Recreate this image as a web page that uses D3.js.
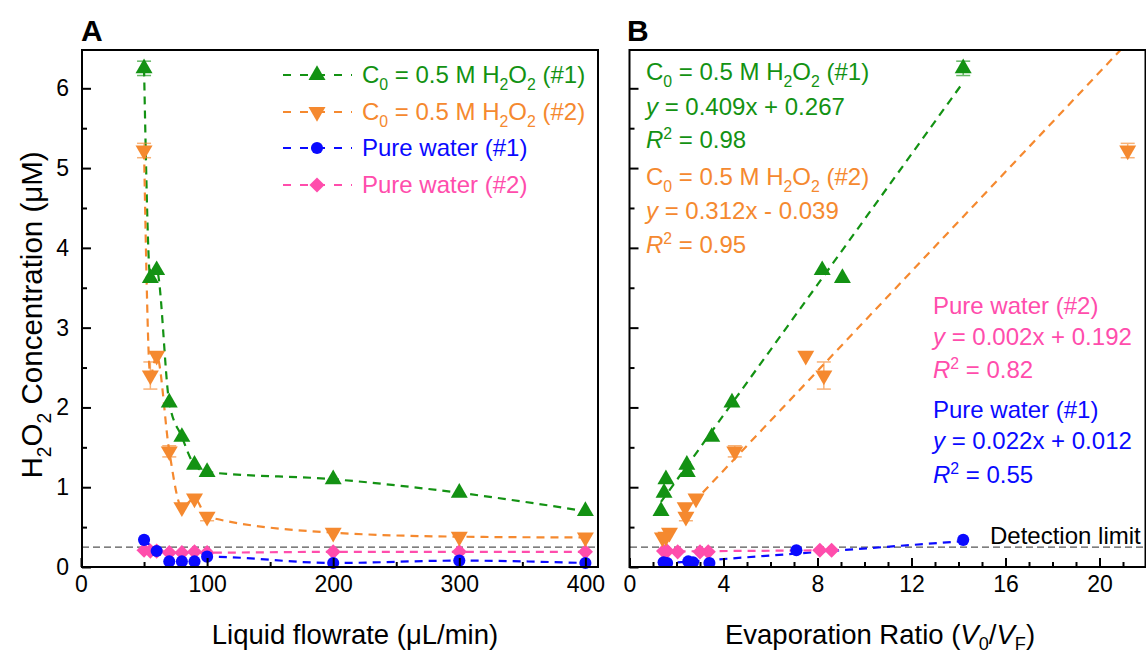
<!DOCTYPE html>
<html>
<head>
<meta charset="utf-8">
<script src="https://cdn.jsdelivr.net/npm/d3@7"></script>
<style>
body{margin:0;background:#fff;}
text{font-family:"Liberation Sans",Arial,sans-serif;}
</style>
</head>
<body>
<div id="chart"></div>
<script>
let w=1146;
let h=655;

// ---- panel A : concentration vs liquid flowrate
let flowH1=[50,55,60,70,80,90,100,200,300,400];
let concH1=[6.25,3.62,3.72,2.06,1.63,1.28,1.19,1.1,0.93,0.7];
let errH1=[0.09,0,0,0,0,0,0,0,0,0];
let flowH2=[50,55,60,70,80,90,100,200,300,400];
let concH2=[5.22,2.4,2.65,1.45,0.75,0.86,0.63,0.43,0.38,0.37];
let errH2=[0.09,0.17,0,0.07,0,0,0.05,0,0,0];
let flowW1=[50,60,70,80,90,100,200,300,400];
let concW1=[0.34,0.2,0.07,0.07,0.07,0.13,0.05,0.08,0.05];
let flowW2=[50,55,60,70,80,90,100,200,300,400];
let concW2=[0.21,0.2,0.2,0.18,0.18,0.19,0.18,0.19,0.19,0.19];

// ---- panel B : concentration vs evaporation ratio
let ratioH1=[14.2,9.06,8.2,4.36,3.5,2.44,2.46,1.55,1.47,1.34];
let ratioH2=[21.2,8.27,7.5,4.48,2.37,2.83,2.4,1.7,1.55,1.4];
let ratioW1=[14.2,7.1,3.4,2.7,2.5,1.6,1.45];
let concW1b=[0.34,0.21,0.05,0.06,0.07,0.05,0.06];
let ratioW2=[8.6,8.1,3.35,3.0,2.05,1.6,1.45];
let concW2b=[0.21,0.21,0.19,0.19,0.19,0.2,0.2];

// linear fits shown in B (order: H2O2 #1, H2O2 #2, water #1, water #2)
let fitSlope=[0.409,0.312,0.022,0.002];
let fitIntercept=[0.267,-0.039,0.012,0.192];
let fitFrom=[1.34,2.3,1.45,1.45];
let fitTo=[14.2,22,14.2,8.6];

let detectionLimit=0.25;

let colors=["#139213","#f5892f","#0a0aff","#ff4dac"];
let shapes=["up","down","circle","diamond"];

let svg=d3.select("#chart").append("svg")
  .attr("width",w)
  .attr("height",h);

let plotTop=50, plotBottom=567;
let xA=d3.scaleLinear().domain([0,410]).range([81,598]);
let xB=d3.scaleLinear().domain([0,22]).range([629.5,1146.5]);
let y=d3.scaleLinear().domain([0,6.48]).range([plotBottom,plotTop]);

svg.append("defs").append("clipPath").attr("id","clipB")
  .append("rect").attr("x",630).attr("y",plotTop).attr("width",w-630).attr("height",plotBottom-plotTop);

function markerPath(shape){
  if(shape=="up") return d3.symbol(d3.symbolTriangle,125)();
  if(shape=="down") return d3.symbol(d3.symbolTriangle,125)();
  if(shape=="circle") return d3.symbol(d3.symbolCircle,115)();
  return d3.symbol(d3.symbolSquare,115)();
}
function markerRot(shape){
  if(shape=="down") return " rotate(180)";
  if(shape=="diamond") return " rotate(45)";
  return "";
}

function drawMarkers(g,xs,ys,errs,k,xScale){
  let pts=xs.map((d,i)=>({x:d,y:ys[i],e:errs?errs[i]:0}));
  let eb=g.selectAll(".eb"+k).data(pts.filter(d=>d.e>0)).enter().append("g")
    .attr("stroke",colors[k]).attr("stroke-width",1.5).attr("opacity",0.65);
  eb.append("line").attr("x1",d=>xScale(d.x)).attr("x2",d=>xScale(d.x))
    .attr("y1",d=>y(d.y+d.e)).attr("y2",d=>y(d.y-d.e));
  eb.append("line").attr("x1",d=>xScale(d.x)-7).attr("x2",d=>xScale(d.x)+7)
    .attr("y1",d=>y(d.y+d.e)).attr("y2",d=>y(d.y+d.e));
  eb.append("line").attr("x1",d=>xScale(d.x)-7).attr("x2",d=>xScale(d.x)+7)
    .attr("y1",d=>y(d.y-d.e)).attr("y2",d=>y(d.y-d.e));
  g.selectAll(".m"+k).data(pts).enter().append("path")
    .attr("d",markerPath(shapes[k]))
    .attr("transform",d=>"translate("+xScale(d.x)+","+y(d.y)+")"+markerRot(shapes[k]))
    .attr("fill",colors[k]);
}

// text with sub / super / italic pieces
function richText(g,x,yy,parts,color,size,anchor,subShift){
  let t=g.append("text").attr("x",x).attr("y",yy).attr("fill",color)
    .style("font-size",size+"px").attr("text-anchor",anchor||"start");
  let shift=0;
  let down=subShift||0.3;
  parts.forEach(function(p){
    if(typeof p=="string") p={t:p};
    let target=0;
    if(p.sub) target=down*size;
    if(p.sup) target=-0.38*size;
    let s=t.append("tspan").text(p.t).attr("dy",target-shift);
    shift=target;
    if(p.sub||p.sup) s.style("font-size",(size*0.66)+"px");
    if(p.i) s.style("font-style","italic");
  });
  return t;
}

function styleAxis(g){
  g.select(".domain").remove();
  g.selectAll(".tick line").attr("stroke","#000").attr("stroke-width",2);
  g.selectAll(".tick text").attr("fill","#000").style("font-size","23px")
    .style("font-family","'Liberation Sans',Arial,sans-serif");
}

// ---------------- panel A
let gA=svg.append("g");

let lineA=d3.line().x(d=>xA(d[0])).y(d=>y(d[1])).curve(d3.curveMonotoneX);
let flowsA=[flowH1,flowH2,flowW1,flowW2];
let concsA=[concH1,concH2,concW1,concW2];
let errsA=[errH1,errH2,null,null];

gA.append("line").attr("x1",82).attr("x2",598)
  .attr("y1",y(detectionLimit)).attr("y2",y(detectionLimit))
  .attr("stroke","#555").attr("stroke-width",1.3).attr("stroke-dasharray","7,4");

for(let k=0;k<4;k++){
  gA.append("path")
    .attr("d",lineA(flowsA[k].map((d,i)=>[d,concsA[k][i]])))
    .attr("fill","none").attr("stroke",colors[k]).attr("stroke-width",2.2)
    .attr("stroke-dasharray","8,6");
}
for(let k=3;k>=0;k--){
  drawMarkers(gA,flowsA[k],concsA[k],errsA[k],k,xA);
}

gA.append("g").attr("transform","translate(0,"+plotBottom+")")
  .call(d3.axisBottom(xA).tickValues([0,100,200,300,400]).tickSize(-9).tickPadding(9))
  .call(styleAxis);
gA.append("g").attr("transform","translate(0,"+plotBottom+")")
  .call(d3.axisBottom(xA).tickValues([50,150,250,350]).tickSize(-5).tickFormat(""))
  .call(styleAxis);
gA.append("g").attr("transform","translate(82,0)")
  .call(d3.axisLeft(y).tickValues([0,1,2,3,4,5,6]).tickFormat(d3.format("d")).tickSize(-9).tickPadding(13))
  .call(styleAxis);
gA.append("g").attr("transform","translate(82,0)")
  .call(d3.axisLeft(y).tickValues([0.5,1.5,2.5,3.5,4.5,5.5]).tickSize(-5).tickFormat(""))
  .call(styleAxis);

gA.append("rect").attr("x",82).attr("y",plotTop).attr("width",598-82).attr("height",plotBottom-plotTop)
  .attr("fill","none").attr("stroke","#000").attr("stroke-width",2);

// legend
let legendText=[
  ["C",{t:"0",sub:true}," = 0.5 M H",{t:"2",sub:true},"O",{t:"2",sub:true}," (#1)"],
  ["C",{t:"0",sub:true}," = 0.5 M H",{t:"2",sub:true},"O",{t:"2",sub:true}," (#2)"],
  ["Pure water (#1)"],
  ["Pure water (#2)"]
];
let legendY=[75,112,148,185];
for(let k=0;k<4;k++){
  gA.append("line").attr("x1",283).attr("x2",352).attr("y1",legendY[k]).attr("y2",legendY[k])
    .attr("stroke",colors[k]).attr("stroke-width",2.2).attr("stroke-dasharray","8,9");
  gA.append("path").attr("d",markerPath(shapes[k]))
    .attr("transform","translate(317,"+legendY[k]+")"+markerRot(shapes[k]))
    .attr("fill",colors[k]);
  richText(gA,362,legendY[k]+8,legendText[k],colors[k],24);
}

// ---------------- panel B
let gB=svg.append("g");
let plotB=gB.append("g").attr("clip-path","url(#clipB)");

plotB.append("line").attr("x1",630).attr("x2",w)
  .attr("y1",y(detectionLimit)).attr("y2",y(detectionLimit))
  .attr("stroke","#555").attr("stroke-width",1.3).attr("stroke-dasharray","7,4");

for(let k=0;k<4;k++){
  let x0=fitFrom[k], x1=fitTo[k];
  plotB.append("line")
    .attr("x1",xB(x0)).attr("y1",y(fitSlope[k]*x0+fitIntercept[k]))
    .attr("x2",xB(x1)).attr("y2",y(fitSlope[k]*x1+fitIntercept[k]))
    .attr("stroke",colors[k]).attr("stroke-width",2.2).attr("stroke-dasharray","8,6");
}
let ratiosB=[ratioH1,ratioH2,ratioW1,ratioW2];
let concsB=[concH1,concH2,concW1b,concW2b];
for(let k=3;k>=0;k--){
  drawMarkers(plotB,ratiosB[k],concsB[k],errsA[k],k,xB);
}

gB.append("g").attr("transform","translate(0,"+plotBottom+")")
  .call(d3.axisBottom(xB).tickValues([0,4,8,12,16,20]).tickSize(-9).tickPadding(9))
  .call(styleAxis);
gB.append("g").attr("transform","translate(0,"+plotBottom+")")
  .call(d3.axisBottom(xB).tickValues(d3.range(1,22).filter(d=>d%4!=0)).tickSize(-5).tickFormat(""))
  .call(styleAxis);
gB.append("g").attr("transform","translate(629.5,0)")
  .call(d3.axisLeft(y).tickValues([0,1,2,3,4,5,6]).tickSize(-9).tickFormat(""))
  .call(styleAxis);
gB.append("g").attr("transform","translate(629.5,0)")
  .call(d3.axisLeft(y).tickValues([0.5,1.5,2.5,3.5,4.5,5.5]).tickSize(-5).tickFormat(""))
  .call(styleAxis);

gB.append("rect").attr("x",629.5).attr("y",plotTop).attr("width",1145.5-629.5).attr("height",plotBottom-plotTop)
  .attr("fill","none").attr("stroke","#000").attr("stroke-width",2);

// fit annotations
let noteLines=[
  [["C",{t:"0",sub:true}," = 0.5 M H",{t:"2",sub:true},"O",{t:"2",sub:true}," (#1)"],
   [{t:"y",i:true}," = 0.409x + 0.267"],
   [{t:"R",i:true},{t:"2",sup:true}," = 0.98"]],
  [["C",{t:"0",sub:true}," = 0.5 M H",{t:"2",sub:true},"O",{t:"2",sub:true}," (#2)"],
   [{t:"y",i:true}," = 0.312x - 0.039"],
   [{t:"R",i:true},{t:"2",sup:true}," = 0.95"]],
  [["Pure water (#1)"],
   [{t:"y",i:true}," = 0.022x + 0.012"],
   [{t:"R",i:true},{t:"2",sup:true}," = 0.55"]],
  [["Pure water (#2)"],
   [{t:"y",i:true}," = 0.002x + 0.192"],
   [{t:"R",i:true},{t:"2",sup:true}," = 0.82"]]
];
let noteX=[646,646,933,933];
let noteY=[[80,115,148],[185,219,253],[418,449,483],[314,345,378]];
for(let k=0;k<4;k++){
  for(let j=0;j<3;j++){
    richText(gB,noteX[k],noteY[k][j],noteLines[k][j],colors[k],24);
  }
}
gB.append("text").attr("x",990).attr("y",544).attr("fill","#000")
  .style("font-size","24px").text("Detection limit");

// ---------------- titles
svg.append("text").attr("x",81).attr("y",41).style("font-size","30px")
  .style("font-weight","bold").text("A");
svg.append("text").attr("x",627).attr("y",41).style("font-size","30px")
  .style("font-weight","bold").text("B");

richText(svg,355,644,["Liquid flowrate (μL/min)"],"#000",27.5,"middle");
richText(svg,880,644,["Evaporation Ratio (",{t:"V",i:true},{t:"0",sub:true},"/",{t:"V",i:true},{t:"F",sub:true},")"],"#000",27.5,"middle",0.22);
richText(svg,0,0,["H",{t:"2",sub:true},"O",{t:"2",sub:true}," Concentration (μM)"],"#000",29.5,"middle")
  .attr("transform","translate(42,315) rotate(-90)");
</script>
</body>
</html>
